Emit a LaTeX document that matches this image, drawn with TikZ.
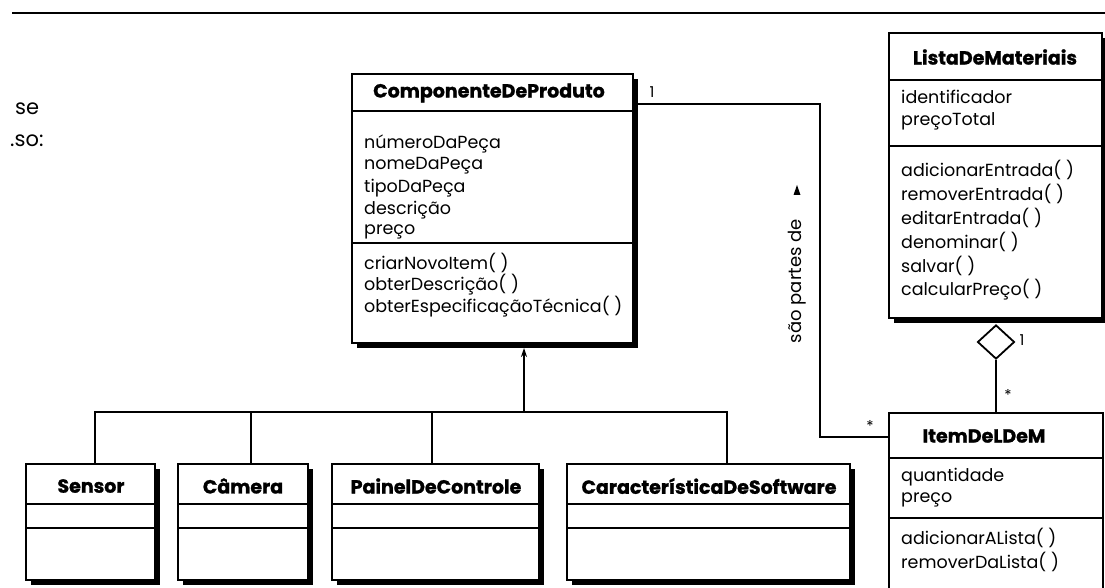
\documentclass[tikz,border=0pt]{standalone}
\usepackage{fontspec}
\setmainfont{Poppins}[BoldFeatures={FakeBold=1.2}]
\usetikzlibrary{shadows,shapes.geometric,arrows.meta,calc}
\begin{document}
\begin{tikzpicture}[x=1pt,y=-1pt,
  clsbox/.style={draw, line width=1.1pt, fill=white, anchor=north west, inner sep=0pt, outer sep=0pt},
  cls/.style={clsbox, general shadow={fill=black, shadow xshift=5pt, shadow yshift=-5pt}},
  divline/.style={line width=1.1pt},
  conn/.style={line width=1.4pt},
  attr/.style={anchor=west, inner sep=0pt, font=\fontsize{17.5}{20}\selectfont},
  ttl/.style={inner sep=0pt, font=\bfseries\fontsize{19}{22}\selectfont},
  mult/.style={inner sep=0pt, font=\fontsize{15}{17}\selectfont},
  body/.style={anchor=west, inner sep=0pt, font=\fontsize{21}{24}\selectfont}]
\useasboundingbox (0,0) rectangle (1105,588);
\clip (0,0) rectangle (1105,588);
% page rule and text fragments
\draw[line width=1.6pt] (12,13) -- (1105,13);
\node[body] (frag1) at (15,109) {se};
\node[body] (frag2) at (10,141) {.so:};
% ComponenteDeProduto
\node[cls, minimum width=281pt, minimum height=269pt] (comp) at (352,74) {};
\draw[divline] (comp.west |- 0,111) -- (comp.east |- 0,111);
\draw[divline] (comp.west |- 0,243) -- (comp.east |- 0,243);
\node[ttl] (compT) at (489,93) {ComponenteDeProduto};
\node[attr] (ca1) at (364,144) {númeroDaPeça};
\node[attr] (ca2) at (364,166) {nomeDaPeça};
\node[attr] (ca3) at (364,188) {tipoDaPeça};
\node[attr] (ca4) at (364,210) {descrição};
\node[attr] (ca5) at (364,232) {preço};
\node[attr] (cm1) at (364,263) {criarNovoItem( )};
\node[attr] (cm2) at (364,285) {obterDescrição( )};
\node[attr] (cm3) at (364,307) {obterEspecificaçãoTécnica( )};
% ListaDeMateriais
\node[cls, minimum width=213pt, minimum height=285pt] (lista) at (889,33) {};
\draw[divline] (lista.west |- 0,80) -- (lista.east |- 0,80);
\draw[divline] (lista.west |- 0,146) -- (lista.east |- 0,146);
\node[ttl] (listaT) at (995,57) {ListaDeMateriais};
\node[attr] (la1) at (901,97) {identificador};
\node[attr] (la2) at (901,121) {preçoTotal};
\node[attr] (lm1) at (901,170) {adicionarEntrada( )};
\node[attr] (lm2) at (901,194) {removerEntrada( )};
\node[attr] (lm3) at (901,218) {editarEntrada( )};
\node[attr] (lm4) at (901,242) {denominar( )};
\node[attr] (lm5) at (901,266) {salvar( )};
\node[attr] (lm6) at (901,290) {calcularPreço( )};
% ItemDeLDeM
\node[clsbox, minimum width=214pt, minimum height=190pt] (item) at (889,413) {};
\draw[divline] (item.west |- 0,458) -- (item.east |- 0,458);
\draw[divline] (item.west |- 0,518) -- (item.east |- 0,518);
\node[ttl] (itemT) at (984,436) {ItemDeLDeM};
\node[attr] (ia1) at (901,477) {quantidade};
\node[attr] (ia2) at (901,500) {preço};
\node[attr] (im1) at (901,538) {adicionarALista( )};
\node[attr] (im2) at (901,562) {removerDaLista( )};
% subclasses
\node[cls, minimum width=129pt, minimum height=116pt] (sensor) at (26,464) {};
\node[cls, minimum width=130pt, minimum height=116pt] (camera) at (178,464) {};
\node[cls, minimum width=207pt, minimum height=116pt] (painel) at (332,464) {};
\node[cls, minimum width=283pt, minimum height=116pt] (caract) at (567,464) {};
\foreach \b in {sensor,camera,painel,caract}{
  \draw[divline] (\b.west |- 0,504) -- (\b.east |- 0,504);
  \draw[divline] (\b.west |- 0,528) -- (\b.east |- 0,528);
}
\node[ttl] (sensorT) at (91,486) {Sensor};
\node[ttl] (cameraT) at (243,486) {Câmera};
\node[ttl] (painelT) at (436,486) {PainelDeControle};
\node[ttl] (caractT) at (709,486) {CaracterísticaDeSoftware};
% generalization
\coordinate (v1) at (95,412);
\coordinate (v2) at (251,412);
\coordinate (v3) at (432,412);
\coordinate (v4) at (727,412);
\coordinate (trunk) at (524,412);
\draw[conn] (v1 |- sensor.north) -- (v1) -- (v4) -- (v4 |- caract.north);
\draw[conn] (v2) -- (v2 |- camera.north);
\draw[conn] (v3) -- (v3 |- painel.north);
\draw[conn, -{Stealth[length=9pt,width=6pt]}] (trunk) -- ($(trunk |- comp.south)+(0,5)$);
% association sao partes de
\coordinate (k1) at (820,104);
\coordinate (k2) at (820,437);
\draw[conn] (comp.east |- k1) -- (k1) -- (k2) -- (item.west |- k2);
\node[mult] (m1) at (652,92) {1};
\node[mult] (m2) at (870,426) {*};
\node[inner sep=0pt, rotate=90, font=\fontsize{18}{21}\selectfont] (assoc) at (797,281) {são partes de};
\fill (793.5,195) -- (800.5,195) -- (797,185) -- cycle;
% aggregation
\node[diamond, draw, fill=white, line width=1.8pt, minimum width=37pt, minimum height=34pt, inner sep=0pt] (agg) at (996,342) {};
\draw[conn] (agg.south) -- (agg.south |- item.north);
\node[mult] (m3) at (1022,340) {1};
\node[mult] (m4) at (1008,395) {*};
\end{tikzpicture}
\end{document}
